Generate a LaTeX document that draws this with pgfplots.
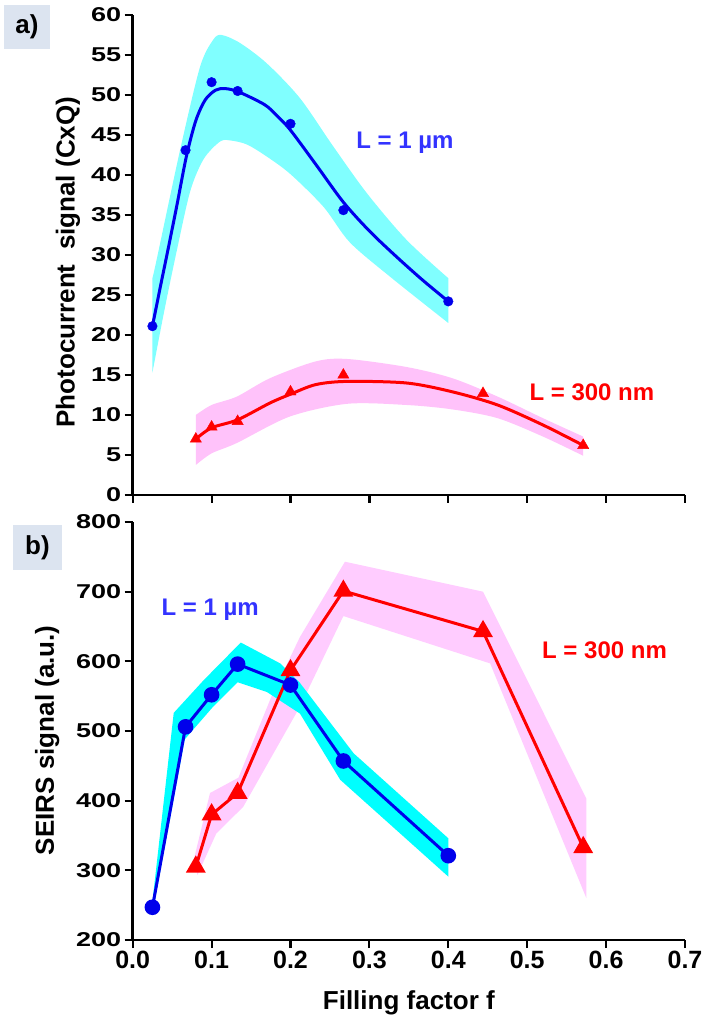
\documentclass[border=0pt]{standalone}
\usepackage{fontspec}
\setmainfont{Liberation Sans}
\usepackage{graphicx}
\usepackage{pgfplots}
\pgfplotsset{compat=1.18}
\usepgfplotslibrary{fillbetween}

\definecolor{bandcyanA}{RGB}{128,255,255}
\definecolor{bandpinkA}{RGB}{255,194,250}
\definecolor{bandcyanB}{RGB}{0,255,255}
\definecolor{bandpinkB}{RGB}{255,204,255}
\definecolor{lineblue}{RGB}{0,0,235}
\definecolor{linered}{RGB}{255,0,0}
\definecolor{txtblue}{RGB}{51,51,255}
\definecolor{panelbg}{RGB}{220,228,240}

\pgfplotsset{
  myaxis/.style={
    scale only axis, width=552.3pt,
    xmin=0, xmax=0.7,
    axis x line*=bottom, axis y line*=left,
    axis line style={line width=2.5pt, black},
    every tick/.style={line width=2.2pt, black},
    tick align=outside, major tick length=8pt,
    xtick={0,0.1,0.2,0.3,0.4,0.5,0.6,0.7},
    yticklabel style={font=\fontsize{20}{20}\selectfont\bfseries},
    yticklabel={\scalebox{1.35}[1]{\pgfmathprintnumber[assume math mode=true]{\tick}}},
    ylabel style={font=\fontsize{26}{26}\selectfont\bfseries, anchor=center},
    xlabel style={font=\fontsize{26}{26}\selectfont\bfseries, anchor=center},
  }
}

\begin{document}
\begin{tikzpicture}[x=1pt,y=1pt]
\path (0,0) rectangle (708,1019);

% ---------------- panel a ----------------
\begin{axis}[myaxis,
  at={(132.7pt,524pt)}, anchor=south west,
  height=480pt,
  ymin=0, ymax=60, ytick={0,5,...,60},
  xticklabels={},
  ylabel={Photocurrent\ \ signal (CxQ)},
  ylabel style={at={(axis description cs:-0.117,0.485)}},
]
% bands
\addplot[name path=bu, draw=none, smooth] coordinates {
(0.025,27.1)(0.0303,29.4)(0.06,43.1)(0.0853,53.5)(0.102,56.9)(0.1127,57.5)
(0.136,56.5)(0.17,53.95)(0.212,49.6)(0.254,43.6)(0.297,37.7)(0.347,31.9)(0.4,27.1)};
\addplot[name path=bl, draw=none, smooth] coordinates {
(0.025,15.3)(0.04,23)(0.056,30.6)(0.073,38.0)(0.09,42.0)(0.111,44.2)(0.125,44.3)
(0.145,43.8)(0.17,42.3)(0.2,40.1)(0.242,36.0)(0.275,31.6)(0.326,27.3)(0.4,21.5)};
\addplot[bandcyanA, draw=none] fill between[of=bu and bl];

\addplot[name path=ru, draw=none, smooth] coordinates {
(0.08,10.0)(0.1,11.25)(0.132,12.3)(0.174,14.6)(0.232,16.7)(0.272,17.0)(0.347,16.0)
(0.405,14.6)(0.4625,12.3)(0.52,9.6)(0.571,7.3)};
\addplot[name path=rl, draw=none, smooth] coordinates {
(0.08,3.75)(0.1,5.2)(0.132,6.5)(0.199,9.8)(0.272,11.4)(0.347,11.25)(0.405,10.7)
(0.4625,9.6)(0.52,7.3)(0.571,4.9)};
\addplot[bandpinkA, draw=none] fill between[of=ru and rl];

% fitted curves
\addplot[lineblue, line width=3pt, smooth] coordinates {
(0.025,21.1)(0.035,26)(0.045,30.8)(0.056,36.2)(0.068,42.3)(0.08,46.8)(0.092,49.4)
(0.105,50.6)(0.117,50.8)(0.134,50.4)(0.167,48.8)(0.183,47.4)(0.2,45.6)(0.233,41.2)
(0.267,36.6)(0.3,33.0)(0.333,29.9)(0.367,26.9)(0.4,24.2)};
\addplot[linered, line width=3pt, smooth] coordinates {
(0.08,7.0)(0.1,8.4)(0.133,9.4)(0.174,11.5)(0.2,12.6)(0.232,13.8)(0.272,14.2)
(0.347,14.0)(0.405,12.9)(0.4625,11.25)(0.52,8.75)(0.571,6.2)};

% data
\addplot[only marks, mark=*, mark size=4.8pt, mark options={fill=lineblue, draw=lineblue}] coordinates {
(0.025,21.1)(0.067,43.1)(0.1,51.6)(0.133,50.5)(0.2,46.4)(0.267,35.6)(0.4,24.2)};
\addplot[only marks, mark=triangle*, mark size=6.5pt, mark options={fill=linered, draw=linered}] coordinates {
(0.08,7.0)(0.1,8.5)(0.133,9.2)(0.2,12.9)(0.267,15.0)(0.444,12.7)(0.571,6.2)};

\node[text=txtblue, font=\fontsize{24}{24}\selectfont\bfseries] at (axis cs:0.345,44) {L = 1 µm};
\node[text=linered, font=\fontsize{24}{24}\selectfont\bfseries] at (axis cs:0.582,12.9) {L = 300 nm};
\end{axis}

% ---------------- panel b ----------------
\begin{axis}[myaxis,
  at={(132.7pt,79pt)}, anchor=south west,
  height=418pt,
  ymin=200, ymax=800, ytick={200,300,...,800},
  xticklabel style={font=\fontsize{25}{25}\selectfont\bfseries},
  xticklabel={\pgfmathprintnumber[fixed, fixed zerofill, precision=1, assume math mode=true]{\tick}},
  ylabel={SEIRS signal (a.u.)},
  ylabel style={at={(axis description cs:-0.155,0.478)}},
  xlabel={Filling factor f},
  xlabel style={at={(axis description cs:0.5,-0.151)}},
]
\addplot[fill=bandpinkB, draw=none] coordinates {
(0.078,318)(0.098,411)(0.134,433)(0.176,550)(0.212,635)(0.269,743)(0.444,700)(0.575,403)
(0.575,260)(0.453,597)(0.267,665)(0.212,535)(0.14,391)(0.106,353)(0.082,293)} -- cycle;
\addplot[fill=bandcyanB, draw=none] coordinates {
(0.025,255)(0.052,526)(0.09,573)(0.137,627)(0.187,597)(0.212,569)(0.28,468)(0.4,346)
(0.4,291)(0.263,430)(0.212,525)(0.17,556)(0.133,570)(0.102,535)(0.066,488)(0.025,238)} -- cycle;

\addplot[linered, line width=3pt, mark=triangle*, mark size=8.5pt, mark options={fill=linered, draw=linered}] coordinates {
(0.08,305)(0.1,380)(0.133,411)(0.2,587)(0.267,701)(0.444,643)(0.571,333)};
\addplot[lineblue, line width=3pt, mark=*, mark size=6.3pt, mark options={fill=lineblue, draw=lineblue}] coordinates {
(0.025,247)(0.067,506)(0.1,552)(0.133,596)(0.2,566)(0.267,457)(0.4,321)};

\node[text=txtblue, font=\fontsize{24}{24}\selectfont\bfseries] at (axis cs:0.0982,673.7) {L = 1 µm};
\node[text=linered, font=\fontsize{24}{24}\selectfont\bfseries] at (axis cs:0.598,616.4) {L = 300 nm};
\end{axis}

\node[fill=panelbg, minimum width=46pt, minimum height=44pt, inner sep=0pt, font=\fontsize{26}{26}\selectfont\bfseries] at (27,992) {a)};
\node[fill=panelbg, minimum width=49pt, minimum height=45pt, inner sep=0pt, font=\fontsize{26}{26}\selectfont\bfseries] at (37.5,471.5) {b)};
\end{tikzpicture}
\end{document}
